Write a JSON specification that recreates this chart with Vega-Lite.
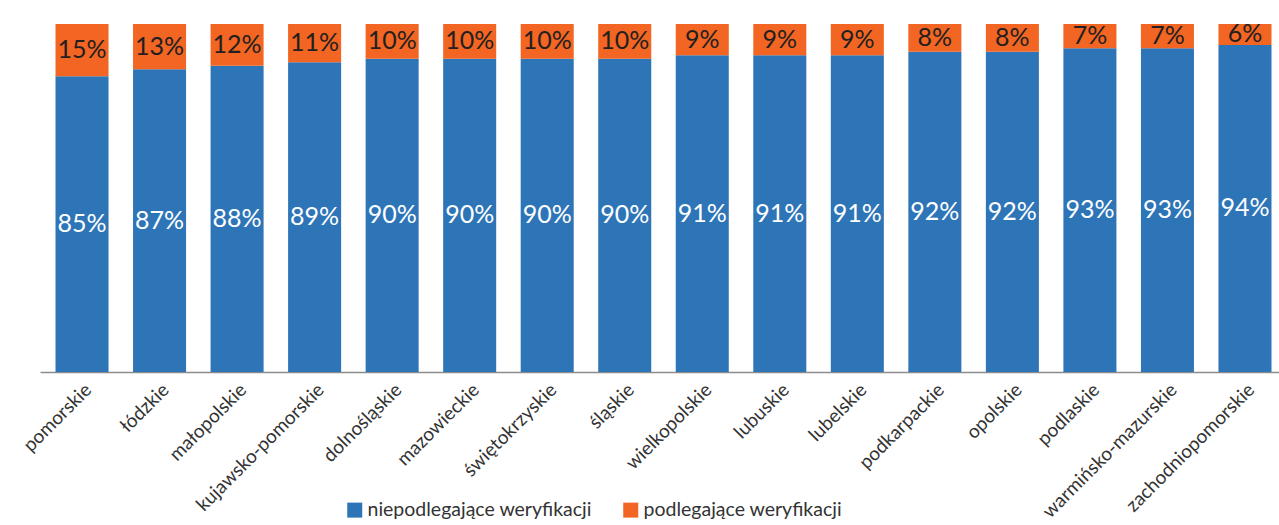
{
  "$schema": "https://vega.github.io/schema/vega-lite/v6.json",
  "autosize": {"type": "none"},
  "padding": {"left": 40, "top": 24, "right": 0, "bottom": 153},
  "width": 1247,
  "height": 348,
  "background": "white",
  "config": {"font": "Lato", "view": {"stroke": null}},
  "data": {"values": [
    {"region": "pomorskie", "kat": "niepodlegające weryfikacji", "ord": 1, "value": 0.85},
    {"region": "pomorskie", "kat": "podlegające weryfikacji", "ord": 2, "value": 0.15},
    {"region": "łódzkie", "kat": "niepodlegające weryfikacji", "ord": 1, "value": 0.87},
    {"region": "łódzkie", "kat": "podlegające weryfikacji", "ord": 2, "value": 0.13},
    {"region": "małopolskie", "kat": "niepodlegające weryfikacji", "ord": 1, "value": 0.88},
    {"region": "małopolskie", "kat": "podlegające weryfikacji", "ord": 2, "value": 0.12},
    {"region": "kujawsko-pomorskie", "kat": "niepodlegające weryfikacji", "ord": 1, "value": 0.89},
    {"region": "kujawsko-pomorskie", "kat": "podlegające weryfikacji", "ord": 2, "value": 0.11},
    {"region": "dolnośląskie", "kat": "niepodlegające weryfikacji", "ord": 1, "value": 0.90},
    {"region": "dolnośląskie", "kat": "podlegające weryfikacji", "ord": 2, "value": 0.10},
    {"region": "mazowieckie", "kat": "niepodlegające weryfikacji", "ord": 1, "value": 0.90},
    {"region": "mazowieckie", "kat": "podlegające weryfikacji", "ord": 2, "value": 0.10},
    {"region": "świętokrzyskie", "kat": "niepodlegające weryfikacji", "ord": 1, "value": 0.90},
    {"region": "świętokrzyskie", "kat": "podlegające weryfikacji", "ord": 2, "value": 0.10},
    {"region": "śląskie", "kat": "niepodlegające weryfikacji", "ord": 1, "value": 0.90},
    {"region": "śląskie", "kat": "podlegające weryfikacji", "ord": 2, "value": 0.10},
    {"region": "wielkopolskie", "kat": "niepodlegające weryfikacji", "ord": 1, "value": 0.91},
    {"region": "wielkopolskie", "kat": "podlegające weryfikacji", "ord": 2, "value": 0.09},
    {"region": "lubuskie", "kat": "niepodlegające weryfikacji", "ord": 1, "value": 0.91},
    {"region": "lubuskie", "kat": "podlegające weryfikacji", "ord": 2, "value": 0.09},
    {"region": "lubelskie", "kat": "niepodlegające weryfikacji", "ord": 1, "value": 0.91},
    {"region": "lubelskie", "kat": "podlegające weryfikacji", "ord": 2, "value": 0.09},
    {"region": "podkarpackie", "kat": "niepodlegające weryfikacji", "ord": 1, "value": 0.92},
    {"region": "podkarpackie", "kat": "podlegające weryfikacji", "ord": 2, "value": 0.08},
    {"region": "opolskie", "kat": "niepodlegające weryfikacji", "ord": 1, "value": 0.92},
    {"region": "opolskie", "kat": "podlegające weryfikacji", "ord": 2, "value": 0.08},
    {"region": "podlaskie", "kat": "niepodlegające weryfikacji", "ord": 1, "value": 0.93},
    {"region": "podlaskie", "kat": "podlegające weryfikacji", "ord": 2, "value": 0.07},
    {"region": "warmińsko-mazurskie", "kat": "niepodlegające weryfikacji", "ord": 1, "value": 0.93},
    {"region": "warmińsko-mazurskie", "kat": "podlegające weryfikacji", "ord": 2, "value": 0.07},
    {"region": "zachodniopomorskie", "kat": "niepodlegające weryfikacji", "ord": 1, "value": 0.94},
    {"region": "zachodniopomorskie", "kat": "podlegające weryfikacji", "ord": 2, "value": 0.06}
  ]},
  "transform": [
    {"stack": "value", "groupby": ["region"], "sort": [{"field": "ord", "order": "ascending"}], "as": ["v0", "v1"]}
  ],
  "encoding": {
    "x": {
      "field": "region", "type": "nominal", "sort": null,
      "scale": {"paddingInner": 0.316, "paddingOuter": 0.2},
      "axis": {
        "title": null, "labelAngle": -45, "labelAlign": "right", "labelBaseline": "top",
        "labelFontSize": 19, "labelColor": "#333333", "labelPadding": 8, "labelLimit": 0,
        "ticks": false, "domainColor": "#8c8c8c", "domainWidth": 1.5, "labelFont": "Lato"
      }
    }
  },
  "layer": [
    {
      "mark": {"type": "bar"},
      "encoding": {
        "y": {"field": "v0", "type": "quantitative", "scale": {"domain": [0, 1]}, "axis": null},
        "y2": {"field": "v1"},
        "color": {
          "field": "kat", "type": "nominal",
          "scale": {"domain": ["niepodlegające weryfikacji", "podlegające weryfikacji"], "range": ["#2E75B8", "#F26522"]},
          "legend": {
            "title": null, "orient": "none", "direction": "horizontal",
            "legendX": 305, "legendY": 476,
            "symbolType": "square", "symbolSize": 225, "symbolStrokeWidth": 0, "symbolOpacity": 1,
            "labelFontSize": 19.5, "labelColor": "#333333", "labelOffset": 3, "columnPadding": 29, "labelFont": "Lato", "labelLimit": 0
          }
        }
      }
    },
    {
      "transform": [
        {"fold": ["v0", "v1"], "as": ["edge", "pos"]},
        {"aggregate": [{"op": "mean", "field": "pos", "as": "mid"}], "groupby": ["region", "ord", "value"]}
      ],
      "mark": {"type": "text", "fontSize": 25, "baseline": "middle", "align": "center"},
      "encoding": {
        "y": {"field": "mid", "type": "quantitative", "scale": {"domain": [0, 1]}, "axis": null},
        "text": {"field": "value", "type": "quantitative", "format": ".0%"},
        "color": {"condition": {"test": "datum.ord === 1", "value": "white"}, "value": "#231f20"}
      }
    }
  ]
}
